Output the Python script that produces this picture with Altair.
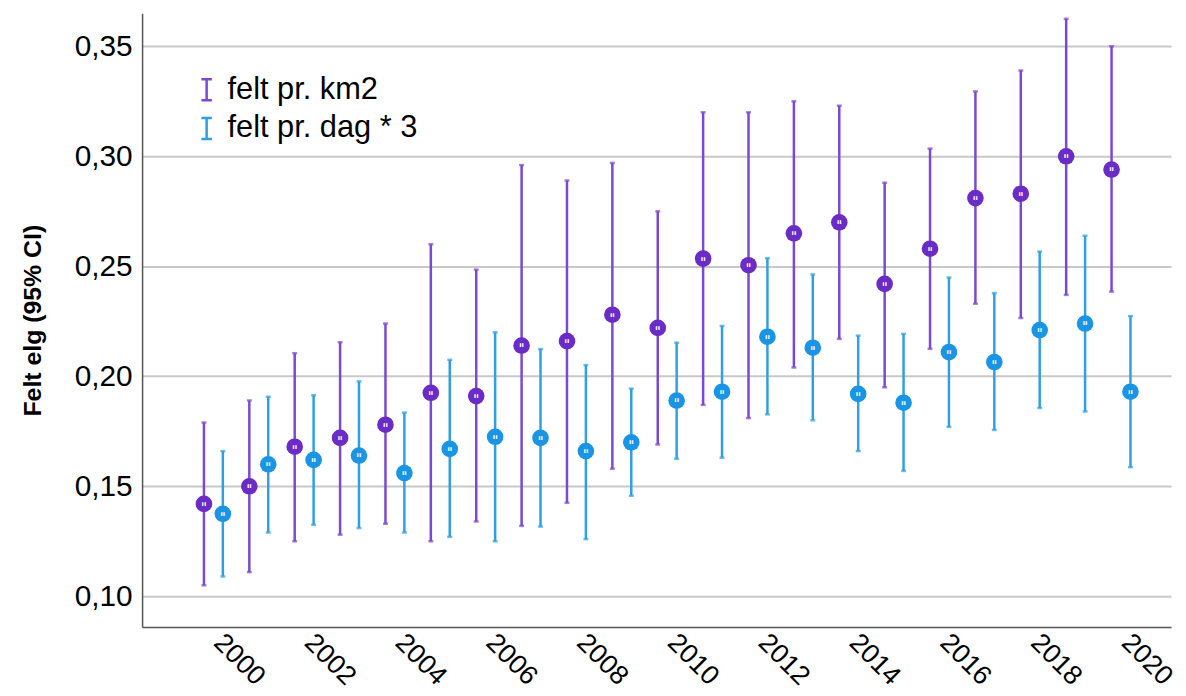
import altair as alt
import pandas as pd

years = list(range(2000, 2021))
series_names = ["felt pr. km2", "felt pr. dag * 3"]

km2_mean = [0.142, 0.150, 0.168, 0.172, 0.178, 0.1925, 0.191, 0.214, 0.216, 0.228, 0.222,
            0.2535, 0.2505, 0.265, 0.270, 0.242, 0.258, 0.281, 0.283, 0.300, 0.294]
km2_low = [0.105, 0.111, 0.125, 0.128, 0.133, 0.125, 0.134, 0.132, 0.1425, 0.158, 0.169,
           0.187, 0.181, 0.204, 0.217, 0.195, 0.2125, 0.233, 0.2265, 0.237, 0.2385]
km2_high = [0.179, 0.189, 0.2105, 0.2155, 0.224, 0.260, 0.2485, 0.296, 0.289, 0.297, 0.275,
            0.320, 0.320, 0.325, 0.323, 0.288, 0.3035, 0.3295, 0.339, 0.3625, 0.350]

dag_mean = [0.1375, 0.160, 0.162, 0.164, 0.156, 0.167, 0.1725, 0.172, 0.166, 0.170, 0.189,
            0.193, 0.218, 0.213, 0.192, 0.188, 0.211, 0.2065, 0.221, 0.224, 0.193]
dag_low = [0.109, 0.129, 0.1325, 0.131, 0.129, 0.127, 0.125, 0.1317, 0.126, 0.1457, 0.1625,
           0.163, 0.1827, 0.180, 0.166, 0.157, 0.177, 0.1756, 0.1856, 0.184, 0.1587]
dag_high = [0.166, 0.1907, 0.1914, 0.1977, 0.1835, 0.2075, 0.220, 0.2124, 0.2051, 0.1944, 0.2153,
            0.2229, 0.2537, 0.2463, 0.2185, 0.2193, 0.2449, 0.2378, 0.2567, 0.2639, 0.2274]

y_ticks = [0.10, 0.15, 0.20, 0.25, 0.30, 0.35]
x_ticks = list(range(2000, 2021, 2))

line_colors = ["#7a48d2", "#2f9fe4"]
point_colors = ["#6a2bc6", "#1a95e6"]

rows = []
for name, m, lo, hi in [(series_names[0], km2_mean, km2_low, km2_high),
                        (series_names[1], dag_mean, dag_low, dag_high)]:
    for yr, a, b, c in zip(years, m, lo, hi):
        rows.append({"year": yr, "series": name, "mean": a, "low": b, "high": c})
df = pd.DataFrame(rows)

FONT = "Liberation Sans"

x_enc = alt.X("year:O", scale=alt.Scale(domain=years, paddingInner=0, paddingOuter=0.837, align=0.64),
              axis=alt.Axis(values=x_ticks, title=None, grid=False, ticks=False, labelAngle=45,
                            labelAlign="left", labelBaseline="top", labelPadding=2, labelOffset=14,
                            labelFontSize=27, labelFont=FONT, labelColor="black",
                            domainColor="#555555", domainWidth=1.5))
xoff = alt.XOffset("series:N", scale=alt.Scale(domain=series_names, paddingInner=0, paddingOuter=0.2))
y_scale = alt.Scale(domain=[0.086, 0.365], nice=False, zero=False)
y_axis = alt.Axis(values=y_ticks, title="Felt elg (95% CI)",
                  labelExpr="replace(format(datum.value, '.2f'), '.', ',')",
                  grid=True, gridColor="#c8c8c8", gridWidth=2, ticks=False,
                  labelFontSize=30, labelFont=FONT, labelColor="black", labelPadding=10,
                  titleFontSize=25, titleFont=FONT, titleFontWeight="bold", titleColor="black",
                  titlePadding=29, domainColor="#555555", domainWidth=1.5)

color_enc = alt.Color("series:N", scale=alt.Scale(domain=series_names, range=line_colors),
                      legend=alt.Legend(title=None, orient="none", legendX=49.5, legendY=61.5,
                                        symbolType="M-0.5,-1H0.5M0,-1V1M-0.5,1H0.5",
                                        symbolSize=441, symbolStrokeWidth=2.5,
                                        labelFontSize=31, labelFont=FONT, labelColor="black",
                                        labelLimit=0, labelOffset=5.5, rowPadding=7, padding=0))

base = alt.Chart(df)

rules = base.mark_rule(strokeWidth=2.5).encode(
    x=x_enc, xOffset=xoff,
    y=alt.Y("low:Q", scale=y_scale, axis=y_axis), y2="high:Q",
    color=color_enc)

tick_lo = base.mark_tick(orient="horizontal", size=5, thickness=2.5).encode(
    x=x_enc, xOffset=xoff, y=alt.Y("low:Q", scale=y_scale),
    color=alt.Color("series:N", legend=None))
tick_hi = base.mark_tick(orient="horizontal", size=5, thickness=2.5).encode(
    x=x_enc, xOffset=xoff, y=alt.Y("high:Q", scale=y_scale),
    color=alt.Color("series:N", legend=None))

points = base.mark_point(filled=True, size=280, opacity=1, strokeWidth=0).encode(
    x=x_enc, xOffset=xoff, y=alt.Y("mean:Q", scale=y_scale),
    fill=alt.Fill("series:N", scale=alt.Scale(domain=series_names, range=point_colors), legend=None))

glyph = base.mark_text(fontSize=7, fontWeight="bold", color="white", font="DejaVu Sans").encode(
    x=x_enc, xOffset=xoff, y=alt.Y("mean:Q", scale=y_scale), text=alt.value("ıı"))

chart = alt.layer(rules, tick_lo, tick_hi, points, glyph).properties(
    width=1036, height=618,
    padding={"left": 12, "top": 3, "right": 0, "bottom": 0},
    background="white",
).configure_view(stroke=None)

chart.save("out.html", embed_options={"renderer": "svg", "actions": False})
